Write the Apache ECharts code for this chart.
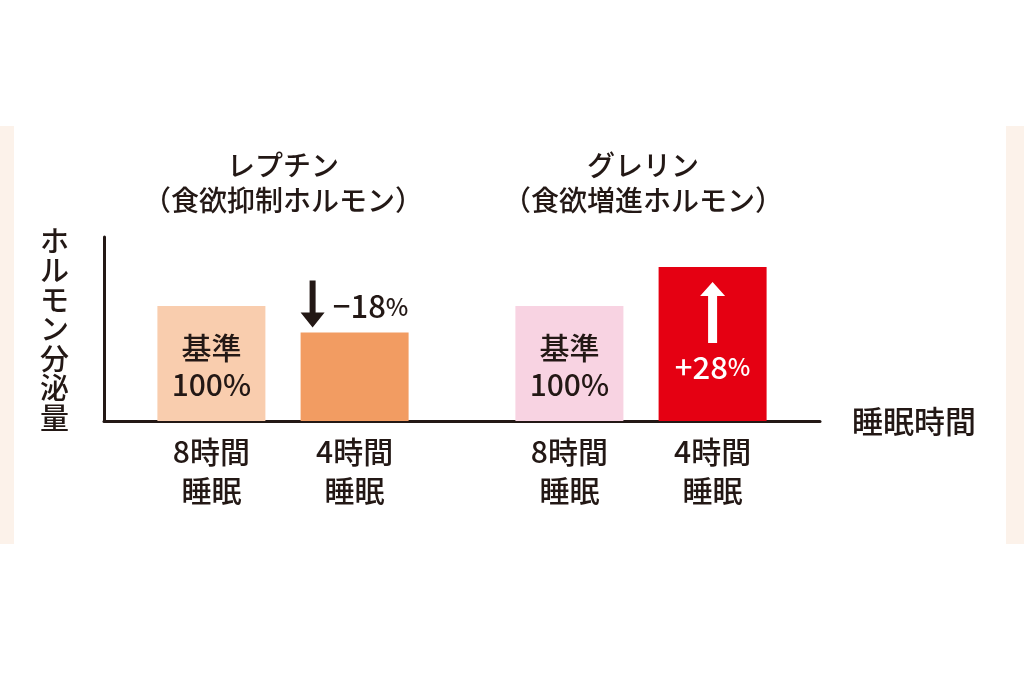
<!DOCTYPE html>
<html>
<head>
<meta charset="utf-8">
<script src="https://cdn.jsdelivr.net/npm/echarts@6/dist/echarts.min.js"></script>
<style>
  html, body { margin: 0; padding: 0; background: #fff; }
  #chart { width: 1024px; height: 683px; }
</style>
</head>
<body>
<div id="chart"></div>
<script>
// chart data
const hormones = ["レプチン\n（食欲抑制ホルモン）", "グレリン\n（食欲増進ホルモン）"];
const sleepLabels = ["8時間\n睡眠", "4時間\n睡眠", "8時間\n睡眠", "4時間\n睡眠"];
const secretion = [100, 77, 100, 134];
const changeText = ["基準\n100%", "−18%", "基準\n100%", "+28%"];
const yName = "ホルモン分泌量";
const xName = "睡眠時間";

const barColors = ["#f9cdae", "#f29c62", "#f8d3e2", "#e50012"];
const ink = "#231815";
const font = '"Noto Sans CJK JP", "Noto Sans", sans-serif';
const weight = 500;

document.addEventListener("DOMContentLoaded", function () {
  initChart();
});

function initChart() {
  let chartDom = document.getElementById("chart");
  let myChart = echarts.init(chartDom);

  // bars sit in slots of a 10-slot category axis to get the uneven spacing
  const slotCount = 10;
  const slots = [1, 3, 6, 8];
  let axisData = new Array(slotCount).fill("");
  let barData = new Array(slotCount).fill("-");

  slots.forEach(function (s, i) {
    axisData[s] = sleepLabels[i];
    let item = {
      value: secretion[i],
      itemStyle: { color: barColors[i] },
    };
    if (i === 0 || i === 2) {
      item.label = {
        show: true,
        position: "inside",
        offset: [0, 3],
        formatter: changeText[i],
        color: ink,
        fontSize: 30,
        lineHeight: 37,
        fontWeight: weight,
        fontFamily: font,
      };
    } else if (i === 1) {
      item.label = {
        show: true,
        position: "top",
        distance: 10,
        offset: [16, 0],
        formatter: "{n|" + changeText[i].replace("%", "") + "}{p|%}",
        rich: {
          n: { fontSize: 31, color: ink, fontFamily: font, fontWeight: weight, lineHeight: 32 },
          p: { fontSize: 24, color: ink, fontFamily: font, fontWeight: weight, lineHeight: 32 },
        },
      };
    } else {
      item.label = {
        show: true,
        position: "insideBottom",
        distance: 38,
        formatter: "{n|" + changeText[i].replace("%", "") + "}{p|%}",
        rich: {
          n: { fontSize: 31, color: "#fff", fontFamily: font, fontWeight: weight, lineHeight: 32 },
          p: { fontSize: 24, color: "#fff", fontFamily: font, fontWeight: weight, lineHeight: 32 },
        },
      };
    }
    barData[s] = item;
  });

  let option = {
    backgroundColor: "#fff",
    animation: false,
    grid: {
      left: 104,
      right: 204,
      top: 237,
      bottom: 262,
      containLabel: false,
    },
    xAxis: {
      type: "category",
      data: axisData,
      name: xName,
      nameLocation: "end",
      nameGap: 32,
      nameTextStyle: {
        color: ink,
        fontSize: 31,
        fontWeight: weight,
        fontFamily: font,
      },
      axisLine: {
        lineStyle: { color: ink, width: 3 },
      },
      axisTick: { show: false },
      axisLabel: {
        interval: 0,
        color: ink,
        fontSize: 30,
        lineHeight: 39,
        margin: 11,
        fontWeight: weight,
        fontFamily: font,
      },
    },
    yAxis: {
      type: "value",
      min: 0,
      max: 160,
      name: yName.split("").join("\n"),
      nameLocation: "middle",
      nameRotate: 0,
      nameGap: 35,
      nameTextStyle: {
        color: ink,
        fontSize: 29,
        lineHeight: 29.5,
        fontWeight: weight,
        fontFamily: font,
      },
      axisLine: {
        show: true,
        lineStyle: { color: ink, width: 3 },
      },
      axisTick: { show: false },
      axisLabel: { show: false },
      splitLine: { show: false },
    },
    series: [
      {
        type: "bar",
        data: barData,
        barWidth: 108,
        barGap: "-100%",
      },
    ],
  };

  myChart.setOption(option);

  // decorations placed from the chart's own scales
  let px = function (slot, value) {
    return myChart.convertToPixel({ seriesIndex: 0 }, [slot, value]);
  };

  let graphics = [
    // pale side panels of the page
    { type: "rect", z: -10, shape: { x: 0, y: 126, width: 14, height: 418 }, style: { fill: "#fcf2ea" } },
    { type: "rect", z: -10, shape: { x: 1006, y: 126, width: 18, height: 418 }, style: { fill: "#fcf2ea" } },
  ];

  // group titles
  hormones.forEach(function (name, g) {
    let a = px(slots[g * 2], 0);
    let b = px(slots[g * 2 + 1], 0);
    graphics.push({
      type: "text",
      z: 50,
      style: {
        text: name,
        x: (a[0] + b[0]) / 2 + (g === 1 ? 2 : 0),
        y: 183,
        align: "center",
        verticalAlign: "middle",
        fill: ink,
        fontSize: 28,
        lineHeight: 35,
        fontWeight: weight,
        fontFamily: font,
      },
    });
  });

  // down arrow beside the shortened leptin bar
  let down = px(slots[1], secretion[1]);
  let dx = down[0] - 42;
  let dTip = down[1] - 5;
  graphics.push({
    type: "polygon",
    z: 50,
    shape: {
      points: [
        [dx - 3, dTip - 47],
        [dx + 3, dTip - 47],
        [dx + 3, dTip - 15],
        [dx + 12, dTip - 15],
        [dx, dTip],
        [dx - 12, dTip - 15],
        [dx - 3, dTip - 15],
      ],
    },
    style: { fill: ink },
  });

  // up arrow inside the ghrelin bar
  let up = px(slots[3], secretion[3]);
  let ux = up[0];
  let uTip = up[1] + 15;
  graphics.push({
    type: "polygon",
    z: 50,
    shape: {
      points: [
        [ux, uTip],
        [ux + 12.5, uTip + 14],
        [ux + 4.5, uTip + 14],
        [ux + 4.5, uTip + 61],
        [ux - 4.5, uTip + 61],
        [ux - 4.5, uTip + 14],
        [ux - 12.5, uTip + 14],
      ],
    },
    style: { fill: "#fff" },
  });

  myChart.setOption({ graphic: graphics });

  window.addEventListener("resize", function () {
    myChart.resize();
  });
}
</script>
</body>
</html>
